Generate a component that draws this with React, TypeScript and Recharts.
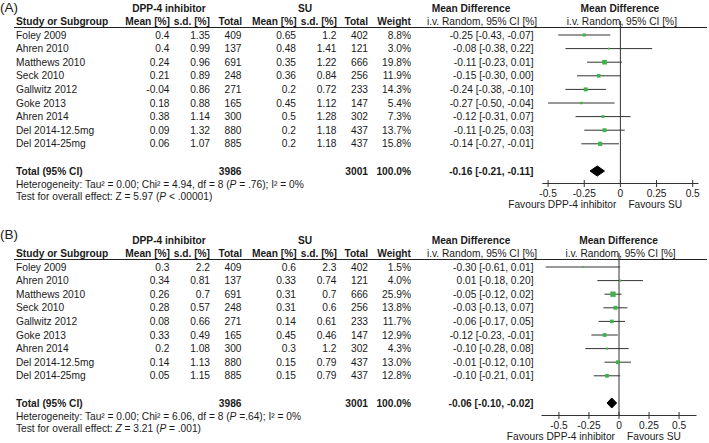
import React from 'react';
import { ComposedChart, Scatter, ErrorBar, XAxis, YAxis, ReferenceLine, Area } from 'recharts';

// ---------- data ----------
const studies = ['Foley 2009', 'Ahren 2010', 'Matthews 2010', 'Seck 2010', 'Gallwitz 2012', 'Goke 2013', 'Ahren 2014', 'Del 2014-12.5mg', 'Del 2014-25mg'];
const dppTotal = [409, 137, 691, 248, 271, 165, 300, 880, 885];
const suTotal = [402, 121, 666, 256, 233, 147, 302, 437, 437];
const axisTicks = [-0.5, -0.25, 0, 0.25, 0.5];

// Panel A
const aDppMean = [0.4, 0.4, 0.24, 0.21, -0.04, 0.18, 0.38, 0.09, 0.06];
const aDppSd = [1.35, 0.99, 0.96, 0.89, 0.86, 0.88, 1.14, 1.32, 1.07];
const aSuMean = [0.65, 0.48, 0.35, 0.36, 0.2, 0.45, 0.5, 0.2, 0.2];
const aSuSd = [1.2, 1.41, 1.22, 0.84, 0.72, 1.12, 1.28, 1.18, 1.18];
const aWeight = [8.8, 3.0, 19.8, 11.9, 14.3, 5.4, 7.3, 13.7, 15.8];
const aMd = [-0.25, -0.08, -0.11, -0.15, -0.24, -0.27, -0.12, -0.11, -0.14];
const aLo = [-0.43, -0.38, -0.23, -0.3, -0.38, -0.5, -0.31, -0.25, -0.27];
const aHi = [-0.07, 0.22, 0.01, 0.0, -0.1, -0.04, 0.07, 0.03, -0.01];
const aOverall = [-0.16, -0.21, -0.11];

// Panel B
const bDppMean = [0.3, 0.34, 0.26, 0.28, 0.08, 0.33, 0.2, 0.14, 0.05];
const bDppSd = [2.2, 0.81, 0.7, 0.57, 0.66, 0.49, 1.08, 1.13, 1.15];
const bSuMean = [0.6, 0.33, 0.31, 0.31, 0.14, 0.45, 0.3, 0.15, 0.15];
const bSuSd = [2.3, 0.74, 0.7, 0.6, 0.61, 0.46, 1.2, 0.79, 0.79];
const bWeight = [1.5, 4.0, 25.9, 13.8, 11.7, 12.9, 4.3, 13.0, 12.8];
const bMd = [-0.3, 0.01, -0.05, -0.03, -0.06, -0.12, -0.1, -0.01, -0.1];
const bLo = [-0.61, -0.18, -0.12, -0.13, -0.17, -0.23, -0.28, -0.12, -0.21];
const bHi = [0.01, 0.2, 0.02, 0.07, 0.05, -0.01, 0.08, 0.1, 0.01];
const bOverall = [-0.06, -0.1, -0.02];

// ---------- layout ----------
const W = 709;
const H = 211;
const ROW0 = 35;
const ROW_H = 13.6;
const PLOT_TOP = 21;
const AXIS_Y = 183.5;
const XH = 22;
const TOTAL_ROW = 10;
const DIAMOND_HALF = 0.37;
const FS = 10.2;
const FONT = "'Liberation Sans', Arial, Helvetica, sans-serif";
const TXT = '#1a1a1a';
const LINE = '#333';
const GREEN = '#3cb44a';

const rowY = (i: number) => ROW0 + i * ROW_H;
const fmt2 = (v: number) => v.toFixed(2);
const ciText = (m: number, l: number, h: number) => `${fmt2(m)} [${fmt2(l)}, ${fmt2(h)}]`;

const T = ({ x, y, anchor = 'start', bold = false, size = FS, children }: any) => (
  <text x={x} y={y} dy="0.35em" textAnchor={anchor} fontWeight={bold ? 'bold' : 'normal'} fontSize={size} fill={TXT} fontFamily={FONT}>
    {children}
  </text>
);

const Square = (props: any) => {
  const { cx, cy } = props;
  const w = props.payload?.w ?? props.w;
  const s = Math.max(1.6, Math.sqrt(w) * 1.05);
  return <rect x={cx - s / 2} y={cy - s / 2} width={s} height={s} fill={GREEN} />;
};

const AxisTick = (props: any) => {
  const { x, y, payload } = props;
  const ay = y - 8;
  return (
    <g>
      <line x1={x} x2={x} y1={ay - 3.5} y2={ay + 3.5} stroke={LINE} strokeWidth={1} />
      <text x={x} y={ay + 9.8} dy="0.35em" textAnchor="middle" fontSize={FS} fill={TXT} fontFamily={FONT}>
        {String(payload.value)}
      </text>
    </g>
  );
};

type Cfg = {
  top: number;
  label: string;
  labelY: number;
  dppMean: number[];
  dppSd: number[];
  suMean: number[];
  suSd: number[];
  weight: number[];
  md: number[];
  lo: number[];
  hi: number[];
  overall: number[];
  domain: [number, number];
  plotLeft: number;
  plotRight: number;
  het: React.ReactNode;
  test: React.ReactNode;
};

function Panel({ cfg }: { cfg: Cfg }) {
  const rows = studies.map((s, i) => ({
    name: s,
    x: cfg.md[i],
    y: i,
    err: [cfg.md[i] - cfg.lo[i], cfg.hi[i] - cfg.md[i]],
    w: cfg.weight[i],
  }));
  const diamond = [
    { x: cfg.overall[1], r: [TOTAL_ROW, TOTAL_ROW] },
    { x: cfg.overall[0], r: [TOTAL_ROW - DIAMOND_HALF, TOTAL_ROW + DIAMOND_HALF] },
    { x: cfg.overall[2], r: [TOTAL_ROW, TOTAL_ROW] },
  ];
  const yDomain: [number, number] = [(PLOT_TOP - ROW0) / ROW_H, (AXIS_Y - ROW0) / ROW_H];
  const [d0, d1] = cfg.domain;
  const zeroX = cfg.plotLeft + ((0 - d0) / (d1 - d0)) * (cfg.plotRight - cfg.plotLeft);

  const colDppMean = 169.5, colDppSd = 210, colDppN = 241.5;
  const colSuMean = 296, colSuSd = 336.5, colSuN = 368, colW = 411, colCI = 533.5;
  const totalY = rowY(TOTAL_ROW);

  return (
    <div style={{ position: 'absolute', left: 0, top: cfg.top, width: W, height: H }}>
      <ComposedChart
        width={W}
        height={H}
        margin={{ top: PLOT_TOP, right: W - cfg.plotRight, bottom: H - AXIS_Y - XH, left: cfg.plotLeft }}
      >
        <XAxis
          type="number"
          dataKey="x"
          domain={cfg.domain}
          ticks={axisTicks}
          interval={0}
          allowDataOverflow
          height={XH}
          axisLine={{ stroke: LINE, strokeWidth: 1 }}
          tickLine={false}
          tickSize={6}
          tickMargin={2}
          tick={<AxisTick />}
        />
        <YAxis type="number" dataKey="y" domain={yDomain} reversed hide allowDataOverflow />
        <ReferenceLine x={0} stroke={LINE} strokeWidth={1} />
        <Area
          data={diamond}
          dataKey="r"
          type="linear"
          fill="#000"
          fillOpacity={1}
          stroke="#000"
          strokeWidth={1}
          dot={false}
          activeDot={false}
          isAnimationActive={false}
        />
        <Scatter data={rows} shape={<Square />} isAnimationActive={false}>
          <ErrorBar dataKey="err" direction="x" width={0} stroke={LINE} strokeWidth={1} />
        </Scatter>
      </ComposedChart>

      <svg width={W} height={H} style={{ position: 'absolute', left: 0, top: 0, pointerEvents: 'none', overflow: 'visible' }}>
        <text x={0} y={cfg.labelY} fontSize={13.5} fill={TXT} fontFamily={FONT}>{cfg.label}</text>

        {/* header row 1 */}
        <T x={169} y={8} anchor="middle" bold>DPP-4 inhibitor</T>
        <T x={305} y={8} anchor="middle" bold>SU</T>
        <T x={471} y={8} anchor="middle" bold>Mean Difference</T>
        <T x={zeroX - 0.5} y={8} anchor="middle" bold>Mean Difference</T>

        {/* header row 2 */}
        <T x={16} y={21.5} bold>Study or Subgroup</T>
        <T x={colDppMean + 0.5} y={21.5} anchor="end" bold>Mean [%]</T>
        <T x={colDppSd} y={21.5} anchor="end" bold>s.d. [%]</T>
        <T x={colDppN + 0.5} y={21.5} anchor="end" bold>Total</T>
        <T x={colSuMean + 0.7} y={21.5} anchor="end" bold>Mean [%]</T>
        <T x={colSuSd + 0.5} y={21.5} anchor="end" bold>s.d. [%]</T>
        <T x={colSuN} y={21.5} anchor="end" bold>Total</T>
        <T x={colW} y={21.5} anchor="end" bold>Weight</T>
        <T x={482} y={21.5} anchor="middle">i.v. Random, 95% CI [%]</T>
        <T x={zeroX + 1.5} y={21.5} anchor="middle">i.v. Random, 95% CI [%]</T>
        <line x1={14} x2={707} y1={27.5} y2={27.5} stroke="#222" strokeWidth={1.1} />

        {/* study rows */}
        {studies.map((s, i) => (
          <g key={s}>
            <T x={16} y={rowY(i)}>{s}</T>
            <T x={colDppMean} y={rowY(i)} anchor="end">{String(cfg.dppMean[i])}</T>
            <T x={colDppSd} y={rowY(i)} anchor="end">{String(cfg.dppSd[i])}</T>
            <T x={colDppN} y={rowY(i)} anchor="end">{String(dppTotal[i])}</T>
            <T x={colSuMean} y={rowY(i)} anchor="end">{String(cfg.suMean[i])}</T>
            <T x={colSuSd} y={rowY(i)} anchor="end">{String(cfg.suSd[i])}</T>
            <T x={colSuN} y={rowY(i)} anchor="end">{String(suTotal[i])}</T>
            <T x={colW} y={rowY(i)} anchor="end">{cfg.weight[i].toFixed(1) + '%'}</T>
            <T x={colCI} y={rowY(i)} anchor="end">{ciText(cfg.md[i], cfg.lo[i], cfg.hi[i])}</T>
          </g>
        ))}

        {/* total */}
        <T x={16} y={totalY} bold>Total (95% CI)</T>
        <T x={colDppN} y={totalY} anchor="end" bold>{String(dppTotal.reduce((a, b) => a + b, 0))}</T>
        <T x={colSuN} y={totalY} anchor="end" bold>{String(suTotal.reduce((a, b) => a + b, 0))}</T>
        <T x={colW} y={totalY} anchor="end" bold>100.0%</T>
        <T x={colCI} y={totalY} anchor="end" bold>{ciText(cfg.overall[0], cfg.overall[1], cfg.overall[2])}</T>
        <T x={16} y={totalY + 13}>{cfg.het}</T>
        <T x={16} y={totalY + 25.5}>{cfg.test}</T>

        {/* favours */}
        <T x={zeroX - 4} y={204} anchor="end">Favours DPP-4 inhibitor</T>
        <T x={zeroX + 8} y={204}>Favours SU</T>
      </svg>
    </div>
  );
}

const I = ({ children }: any) => <tspan fontStyle="italic">{children}</tspan>;

const panelA: Cfg = {
  top: 0,
  label: '(A)',
  labelY: 11.5,
  dppMean: aDppMean,
  dppSd: aDppSd,
  suMean: aSuMean,
  suSd: aSuSd,
  weight: aWeight,
  md: aMd,
  lo: aLo,
  hi: aHi,
  overall: aOverall,
  domain: [-0.54, 0.54],
  plotLeft: 542.3,
  plotRight: 698.5,
  het: (
    <>
      Heterogeneity: Tau² = 0.00; Chi² = 4.94, df = 8 (<I>P</I> = .76); I² = 0%
    </>
  ),
  test: (
    <>
      Test for overall effect: Z = 5.97 (<I>P</I> {'<'} .00001)
    </>
  ),
};

const panelB: Cfg = {
  top: 232,
  label: '(B)',
  labelY: 7,
  dppMean: bDppMean,
  dppSd: bDppSd,
  suMean: bSuMean,
  suSd: bSuSd,
  weight: bWeight,
  md: bMd,
  lo: bLo,
  hi: bHi,
  overall: bOverall,
  domain: [-0.645, 0.645],
  plotLeft: 541.5,
  plotRight: 696.5,
  het: (
    <>
      Heterogeneity: Tau² = 0.00; Chi² = 6.06, df = 8 (<I>P</I> =.64); I² = 0%
    </>
  ),
  test: (
    <>
      Test for overall effect: <I>Z</I> = 3.21 (<I>P</I> = .001)
    </>
  ),
};

export default function App() {
  return (
    <div style={{ position: 'absolute', left: 0, top: 0, width: W, height: 443, background: '#fff', overflow: 'hidden' }}>
      <Panel cfg={panelA} />
      <Panel cfg={panelB} />
    </div>
  );
}
